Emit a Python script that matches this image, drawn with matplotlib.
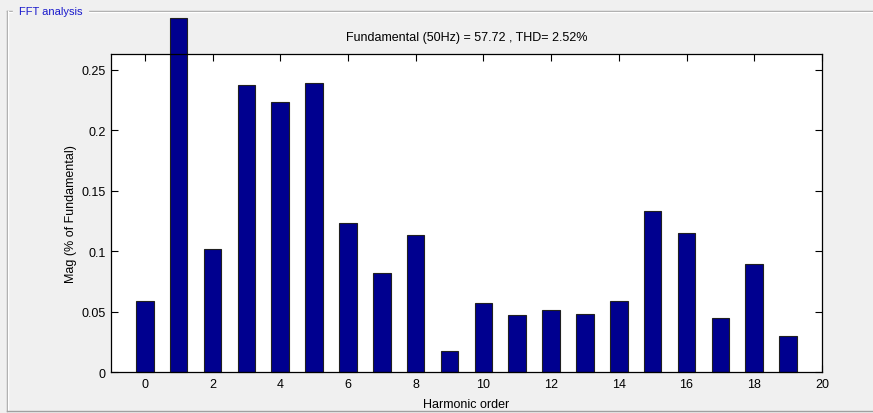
"""FFT analysis panel: harmonic magnitudes as a bar chart."""

import matplotlib
matplotlib.use("Agg")
import matplotlib.pyplot as plt
from matplotlib.lines import Line2D

# harmonic spectrum (% of fundamental)
orders = list(range(20))
magnitudes = [0.059, 0.293, 0.102, 0.237, 0.223, 0.239, 0.123, 0.082, 0.113, 0.017,
              0.057, 0.047, 0.051, 0.048, 0.059, 0.133, 0.115, 0.045, 0.089, 0.030]

fundamental = 57.72
thd = 2.52

y_ticks = [0, 0.05, 0.1, 0.15, 0.2, 0.25]
y_tick_labels = ["0", "0.05", "0.1", "0.15", "0.2", "0.25"]
x_ticks = list(range(0, 21, 2))

BG = "#f0f0f0"
BAR = "#00008f"

plt.rcParams["font.family"] = ["Liberation Sans", "DejaVu Sans"]

fig = plt.figure(figsize=(8.73, 4.14), dpi=100, facecolor=BG)
ax = fig.add_axes([0.1271, 0.0990, 0.8144, 0.7681])

bars = ax.bar(orders, magnitudes, width=0.52, color=BAR, edgecolor="#202020",
              linewidth=0.8, zorder=2)
for b in bars:
    b.set_clip_on(False)

ax.set_xlim(-1, 20)
ax.set_ylim(0, 0.263)
ax.set_xticks(x_ticks)
ax.set_yticks(y_ticks)
ax.set_yticklabels(y_tick_labels)
ax.tick_params(direction="in", length=5, width=0.8, labelsize=9,
               top=True, right=True, pad=4)
for s in ax.spines.values():
    s.set_linewidth(0.9)
    s.set_zorder(3)

ax.set_xlabel("Harmonic order", fontsize=9, labelpad=6)
ax.set_ylabel("Mag (% of Fundamental)", fontsize=9, labelpad=3)
ax.set_title(f"Fundamental (50Hz) = {fundamental} , THD= {thd}%", fontsize=9, pad=10)

# groupbox frame around the panel
top_y = 1 - 12 / 414
left_x = 7 / 873
fig.add_artist(Line2D([left_x, 1.0], [top_y, top_y], color="#a0a0a0", lw=1))
fig.add_artist(Line2D([left_x, 1.0], [top_y - 1 / 414] * 2, color="white", lw=1))
fig.add_artist(Line2D([left_x, left_x], [top_y, 0.004], color="#a0a0a0", lw=1))
fig.add_artist(Line2D([left_x + 1 / 873] * 2, [top_y, 0.004], color="white", lw=1))
fig.add_artist(Line2D([left_x, 1.0], [0.004, 0.004], color="#a0a0a0", lw=1))
fig.text(19 / 873, top_y, "FFT analysis", color="#1a1acc", fontsize=8,
         ha="left", va="center", backgroundcolor=BG)

fig.savefig("out.png", dpi=100, facecolor=BG)
